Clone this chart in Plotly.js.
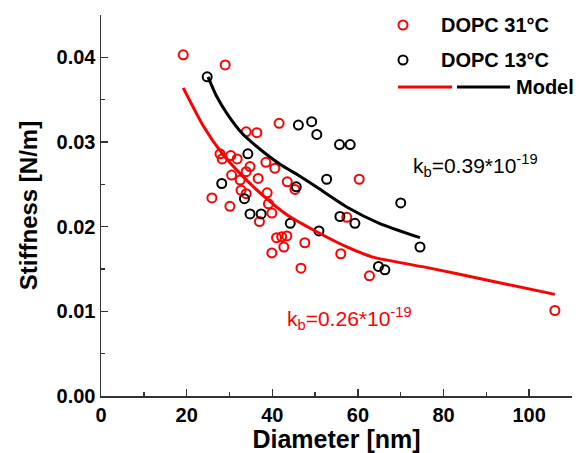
<!DOCTYPE html>
<html>
<head>
<meta charset="utf-8">
<script src="https://cdn.plot.ly/plotly-3.0.1.min.js"></script>
<style>html,body{margin:0;padding:0;background:#fff;}#chart{width:581px;height:453px;}</style>
</head>
<body>
<div id="chart"></div>
<script>
// DOPC 31 °C measurements
const warmDiameter = [19.2, 29.0, 41.6, 33.9, 36.4, 27.8, 28.3, 30.3, 31.8, 34.8, 38.5, 40.6, 43.5, 30.5, 33.9, 36.7, 32.5, 32.7, 33.9, 38.8, 39.1, 25.9, 30.1, 37.0, 39.9, 41.0, 42.2, 43.4, 42.7, 39.9, 47.6, 46.7, 60.3, 45.3, 57.4, 56.0, 62.7, 106.0];
const warmStiffness = [0.0403, 0.0391, 0.0322, 0.0312, 0.0311, 0.0286, 0.0280, 0.0284, 0.0280, 0.0271, 0.0276, 0.0269, 0.0253, 0.0261, 0.0265, 0.0257, 0.0255, 0.0243, 0.0239, 0.0240, 0.0227, 0.0234, 0.0224, 0.0206, 0.0216, 0.0187, 0.0188, 0.0189, 0.0176, 0.0169, 0.0181, 0.0151, 0.0256, 0.0244, 0.0211, 0.0168, 0.0142, 0.0101];

// DOPC 13 °C measurements
const coldDiameter = [24.8, 46.1, 49.2, 50.4, 34.3, 55.7, 58.2, 52.7, 28.2, 45.6, 33.5, 70.0, 34.8, 37.4, 44.2, 55.8, 59.3, 50.9, 74.5, 64.8, 66.3];
const coldStiffness = [0.0377, 0.0320, 0.0324, 0.0309, 0.0286, 0.0297, 0.0297, 0.0256, 0.0251, 0.0247, 0.0233, 0.0228, 0.0215, 0.0215, 0.0204, 0.0212, 0.0204, 0.0195, 0.0176, 0.0153, 0.0149];

// Model curves
const warmModelDiameter = [19.2, 24, 28.2, 33, 38, 43.4, 49.6, 57.4, 63.5, 76.8, 90, 106];
const warmModelStiffness = [0.0364, 0.0318, 0.0287, 0.0260, 0.0236, 0.0214, 0.0196, 0.0176, 0.0164, 0.0151, 0.0137, 0.0120];
const coldModelDiameter = [25, 27, 29.5, 33, 37, 42, 46, 50, 57.5, 65, 74.5];
const coldModelStiffness = [0.0377, 0.0354, 0.0333, 0.0310, 0.0292, 0.0273, 0.0261, 0.0248, 0.0223, 0.0204, 0.0187];

// Text
const xTitle = 'Diameter [nm]';
const yTitle = 'Stiffness [N/m]';
const legendWarm = 'DOPC 31°C';
const legendCold = 'DOPC 13°C';
const legendModel = 'Model';
const kbCold = 'k<sub>b</sub>=0.39*10<sup>-19</sup>';
const kbWarm = 'k<sub>b</sub>=0.26*10<sup>-19</sup>';

const RED = '#ff0000', BLACK = '#000000';
const FONT = 'Liberation Sans, Arial, sans-serif';

const traces = [
  {x: warmDiameter, y: warmStiffness, type: 'scatter', mode: 'markers', name: legendWarm,
   marker: {symbol: 'circle-open', size: 9, color: RED, line: {width: 2, color: RED}}},
  {x: coldDiameter, y: coldStiffness, type: 'scatter', mode: 'markers', name: legendCold,
   marker: {symbol: 'circle-open', size: 9, color: BLACK, line: {width: 2, color: BLACK}}},
  {x: warmModelDiameter, y: warmModelStiffness, type: 'scatter', mode: 'lines', name: legendModel,
   line: {color: RED, width: 3, shape: 'spline', smoothing: 0.6}},
  {x: coldModelDiameter, y: coldModelStiffness, type: 'scatter', mode: 'lines', name: legendModel,
   line: {color: BLACK, width: 3, shape: 'spline', smoothing: 0.6}}
];

const L = 101, T = 15, W = 471, H = 381;
const px = v => (v - L) / W;
const py = v => (T + H - v) / H;

function circ(cx, cy, color) {
  return {type: 'circle', xref: 'paper', yref: 'paper', xsizemode: 'pixel', ysizemode: 'pixel',
    xanchor: px(cx), yanchor: py(cy), x0: -4.5, x1: 4.5, y0: -4.5, y1: 4.5,
    line: {color: color, width: 2}, fillcolor: 'rgba(0,0,0,0)'};
}
function seg(x0, x1, y, color) {
  return {type: 'line', xref: 'paper', yref: 'paper', x0: px(x0), x1: px(x1), y0: py(y), y1: py(y),
    line: {color: color, width: 3}};
}

const layout = {
  width: 581, height: 453,
  margin: {l: L, r: 581 - L - W, t: T, b: 453 - T - H},
  paper_bgcolor: '#fff', plot_bgcolor: '#fff',
  showlegend: false,
  font: {family: FONT, color: BLACK},
  xaxis: {
    range: [0, 110], dtick: 20, tick0: 0, showgrid: false, zeroline: false,
    showline: true, linecolor: '#333', linewidth: 1.5,
    ticks: 'inside', ticklen: 7, tickwidth: 1.5, tickcolor: '#333',
    minor: {dtick: 10, ticks: 'inside', ticklen: 4, tickwidth: 1.5, tickcolor: '#333'},
    tickfont: {family: FONT, size: 20, color: BLACK, weight: 'bold'},
    title: {text: xTitle, font: {family: FONT, size: 25, color: BLACK, weight: 'bold'}, standoff: 7}
  },
  yaxis: {
    range: [0, 0.045], dtick: 0.01, tick0: 0, tickformat: '.2f', showgrid: false, zeroline: false,
    showline: true, linecolor: '#333', linewidth: 1.5,
    ticks: 'inside', ticklen: 7, tickwidth: 1.5, tickcolor: '#333',
    minor: {dtick: 0.005, ticks: 'inside', ticklen: 4, tickwidth: 1.5, tickcolor: '#333'},
    tickfont: {family: FONT, size: 20, color: BLACK, weight: 'bold'},
    title: {text: yTitle, font: {family: FONT, size: 24, color: BLACK, weight: 'bold'}, standoff: 12}
  },
  shapes: [
    circ(403, 25, RED), circ(403, 60, BLACK),
    seg(398, 452, 87, RED), seg(457, 510, 87, BLACK)
  ],
  annotations: [
    {xref: 'paper', yref: 'paper', x: px(439), y: py(25), xanchor: 'left', yanchor: 'middle', showarrow: false,
     text: legendWarm, font: {family: FONT, size: 20, color: BLACK, weight: 'bold'}},
    {xref: 'paper', yref: 'paper', x: px(439), y: py(60), xanchor: 'left', yanchor: 'middle', showarrow: false,
     text: legendCold, font: {family: FONT, size: 20, color: BLACK, weight: 'bold'}},
    {xref: 'paper', yref: 'paper', x: px(514), y: py(87), xanchor: 'left', yanchor: 'middle', showarrow: false,
     text: legendModel, font: {family: FONT, size: 20, color: BLACK, weight: 'bold'}},
    {xref: 'paper', yref: 'paper', x: px(411), y: py(165), xanchor: 'left', yanchor: 'middle', showarrow: false,
     text: kbCold, font: {family: FONT, size: 21, color: BLACK}},
    {xref: 'paper', yref: 'paper', x: px(285), y: py(318), xanchor: 'left', yanchor: 'middle', showarrow: false,
     text: kbWarm, font: {family: FONT, size: 21, color: RED}}
  ]
};

Plotly.newPlot('chart', traces, layout, {displayModeBar: false, staticPlot: true});
</script>
</body>
</html>
